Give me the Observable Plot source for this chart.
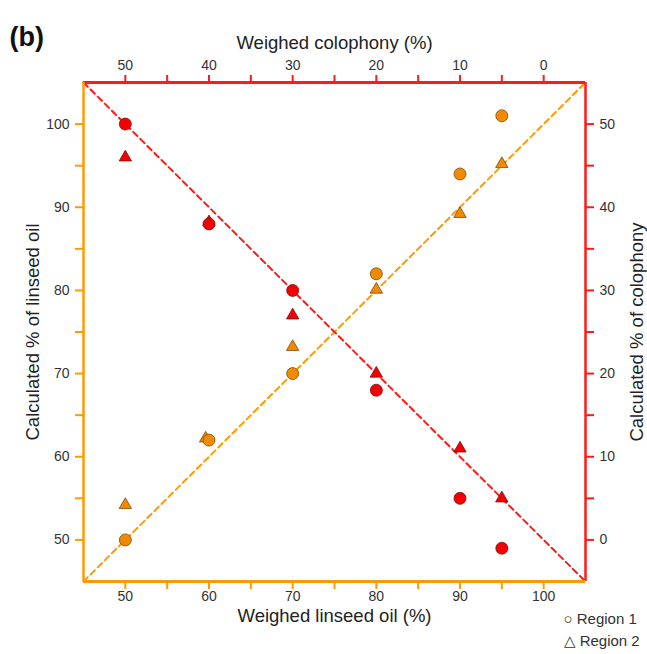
<!DOCTYPE html>
<html>
<head>
<meta charset="utf-8">
<script src="https://cdn.jsdelivr.net/npm/d3@7"></script>
<script src="https://cdn.jsdelivr.net/npm/@observablehq/plot@0.6"></script>
<style>
  html, body { margin: 0; padding: 0; background: #fff; }
</style>
</head>
<body>
<div id="chart"></div>
<script>
// ---- data ----
const axisDomain = [45, 105];
const majorTicks = [50, 60, 70, 80, 90, 100];
const minorTicks = [55, 65, 75, 85, 95];
const weighedLinseed = [50, 60, 70, 80, 90, 95];
const weighedLinseedR2 = [50, 59.6, 70, 80, 90, 95];
const calcLinseedRegion1 = [50, 62, 70, 82, 94, 101];
const calcLinseedRegion2 = [54.2, 62.2, 73.2, 80.1, 89.2, 95.2];
const calcColophonyRegion1 = [50, 38, 30, 18, 5, -1];
const calcColophonyRegion2 = [46, 38.2, 27, 20, 11, 5];
const legendLabels = ["○ Region 1", "△ Region 2"];

const ORANGE_AXIS = "#ff9a00";
const RED_AXIS = "#ff1a1a";
const ORANGE_FILL = "#f28a00";
const RED_FILL = "#f40000";

// red (colophony) points live on top/right axes: x linseed = 100 - colophony, right value = y - 50
const rows = [];
weighedLinseed.forEach((w, i) => {
  rows.push({x: w, y: calcLinseedRegion1[i], comp: "oil", region: 1});
  rows.push({x: weighedLinseedR2[i], y: calcLinseedRegion2[i], comp: "oil", region: 2});
  rows.push({x: w, y: calcColophonyRegion1[i] + 50, comp: "col", region: 1});
  rows.push({x: w, y: calcColophonyRegion2[i] + 50, comp: "col", region: 2});
});
const oilLine = axisDomain.map(v => ({x: v, y: v}));
const colLine = axisDomain.map(v => ({x: v, y: 150 - v}));

const tickFont = {fontSize: 14, fill: "#333"};
const titleFont = {fontSize: 18.5, fill: "#222"};
const chart = Plot.plot({
  width: 647,
  height: 654,
  marginLeft: 83,
  marginRight: 62,
  marginTop: 82,
  marginBottom: 73,
  x: {domain: axisDomain, axis: null},
  y: {domain: axisDomain, axis: null},
  style: {fontFamily: "'Liberation Sans', Arial, sans-serif", background: "#fff"},
  marks: [
    // dashed reference lines
    Plot.line(oilLine, {x: "x", y: "y", stroke: ORANGE_AXIS, strokeWidth: 2, strokeDasharray: "6,4"}),
    Plot.line(colLine, {x: "x", y: "y", stroke: RED_AXIS, strokeWidth: 2, strokeDasharray: "6,4"}),
    // axes (ticks)
    Plot.axisX(majorTicks, {anchor: "bottom", tickSize: 8, tickPadding: 2, stroke: ORANGE_AXIS, strokeWidth: 2, ...tickFont, label: null}),
    Plot.axisX(minorTicks, {anchor: "bottom", tickSize: 8, stroke: ORANGE_AXIS, strokeWidth: 2, text: null, label: null}),
    Plot.axisY(majorTicks, {anchor: "left", tickSize: 8, tickPadding: 6, stroke: ORANGE_AXIS, strokeWidth: 2, ...tickFont, label: null}),
    Plot.axisY(minorTicks, {anchor: "left", tickSize: 8, stroke: ORANGE_AXIS, strokeWidth: 2, text: null, label: null}),
    Plot.axisX(majorTicks, {anchor: "top", tickSize: 8, tickPadding: 5, stroke: RED_AXIS, strokeWidth: 2, ...tickFont, tickFormat: d => 100 - d, label: null}),
    Plot.axisX(minorTicks, {anchor: "top", tickSize: 8, stroke: RED_AXIS, strokeWidth: 2, text: null, label: null}),
    Plot.axisY(majorTicks, {anchor: "right", tickSize: 8, tickPadding: 6, stroke: RED_AXIS, strokeWidth: 2, ...tickFont, tickFormat: d => d - 50, label: null}),
    Plot.axisY(minorTicks, {anchor: "right", tickSize: 8, stroke: RED_AXIS, strokeWidth: 2, text: null, label: null}),
    // frame
    Plot.ruleY([axisDomain[1]], {stroke: RED_AXIS, strokeWidth: 3}),
    Plot.ruleX([axisDomain[1]], {stroke: RED_AXIS, strokeWidth: 2.5}),
    Plot.ruleX([axisDomain[0]], {stroke: ORANGE_AXIS, strokeWidth: 2.5}),
    Plot.ruleY([axisDomain[0]], {stroke: ORANGE_AXIS, strokeWidth: 3}),
    // points
    Plot.dot(rows.filter(d => d.region === 2), {
      x: "x", y: "y", symbol: "triangle", r: 4.6,
      fill: d => d.comp === "oil" ? ORANGE_FILL : RED_FILL,
      stroke: d => d.comp === "oil" ? "#7a4a10" : "#7a1010", strokeWidth: 0.8
    }),
    Plot.dot(rows.filter(d => d.region === 1), {
      x: "x", y: "y", symbol: "circle", r: 6,
      fill: d => d.comp === "oil" ? ORANGE_FILL : RED_FILL,
      stroke: d => d.comp === "oil" ? "#7a4a10" : "#7a1010", strokeWidth: 0.8
    }),
    // titles
    Plot.text(["Weighed linseed oil (%)"], {frameAnchor: "bottom", dy: 40, ...titleFont}),
    Plot.text(["Weighed colophony (%)"], {frameAnchor: "top", dy: -47, ...titleFont}),
    Plot.text(["Calculated % of linseed oil"], {frameAnchor: "left", dx: -50, rotate: -90, textAnchor: "middle", ...titleFont}),
    Plot.text(["Calculated % of colophony"], {frameAnchor: "right", dx: 52, rotate: -90, textAnchor: "middle", ...titleFont}),
    Plot.text(["(b)"], {frameAnchor: "top-left", dx: -74, dy: -56, fontSize: 27, fontWeight: "bold", fill: "#111", textAnchor: "start"}),
    Plot.text([legendLabels[0]], {frameAnchor: "bottom-right", dx: -22, dy: 42, textAnchor: "start", fontSize: 15, fill: "#333"}),
    Plot.text([legendLabels[1]], {frameAnchor: "bottom-right", dx: -22, dy: 64, textAnchor: "start", fontSize: 15, fill: "#333"})
  ]
});
document.getElementById("chart").appendChild(chart);
</script>
</body>
</html>
